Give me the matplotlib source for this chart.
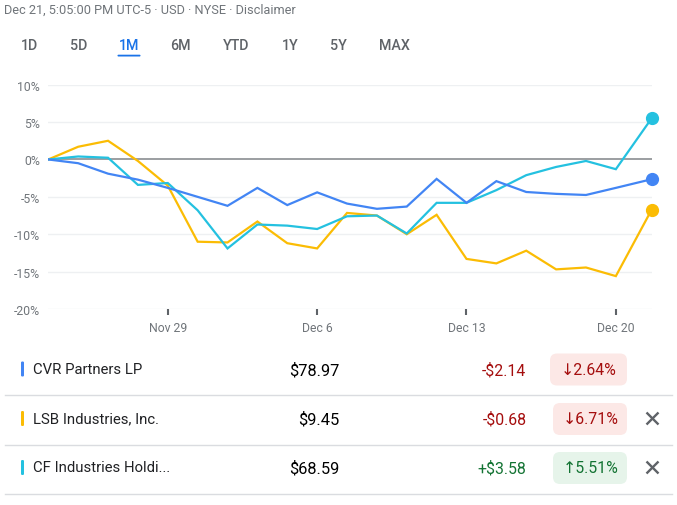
import matplotlib
matplotlib.use("Agg")
import matplotlib.pyplot as plt
from matplotlib.patches import FancyBboxPatch

plt.rcParams["font.family"] = ["Roboto", "DejaVu Sans"]

# ── data ───────────────────────────────────────────────────────────────────────
# trading sessions Nov 22 .. Dec 21 (last point is the live quote)
session_x = [0, 1, 2, 3, 4, 5, 6, 7, 8, 9, 10, 11, 12, 13, 14, 15, 16, 17, 18, 19, 20.2]

cvr_pct = [0, -0.5, -1.9, -2.7, -3.8, -5.0, -6.2, -3.8, -6.1, -4.4,
           -5.9, -6.6, -6.3, -2.6, -5.8, -2.9, -4.35, -4.6, -4.75, -3.8, -2.64]
lsb_pct = [0, 1.7, 2.5, -0.2, -3.5, -11.0, -11.1, -8.3, -11.2, -11.9,
           -7.15, -7.5, -10.0, -7.4, -13.3, -13.9, -12.2, -14.7, -14.45, -15.6, -6.71]
cf_pct = [0, 0.4, 0.23, -3.4, -3.15, -6.8, -11.9, -8.7, -8.85, -9.3,
          -7.6, -7.5, -9.9, -5.8, -5.8, -4.1, -2.1, -1.0, -0.2, -1.3, 5.51]

tick_pos = [4, 9, 14, 19]
tick_labels = ["Nov 29", "Dec 6", "Dec 13", "Dec 20"]
y_ticks = [10, 5, 0, -5, -10, -15, -20]

names = ["CVR Partners LP", "LSB Industries, Inc.", "CF Industries Holdi..."]
prices = ["$78.97", "$9.45", "$68.59"]
changes = ["-$2.14", "-$0.68", "+$3.58"]
pcts = ["2.64%", "6.71%", "5.51%"]
is_up = [False, False, True]
removable = [False, True, True]

tabs = ["1D", "5D", "1M", "6M", "YTD", "1Y", "5Y", "MAX"]
active_tab = "1M"
header = "Dec 21, 5:05:00 PM UTC-5 \u00b7 USD \u00b7 NYSE \u00b7 Disclaimer"

BLUE = "#4285f4"
YELLOW = "#fbbc04"
CYAN = "#24c1e0"
series = [(lsb_pct, YELLOW), (cf_pct, CYAN), (cvr_pct, BLUE)]
row_colors = [BLUE, YELLOW, CYAN]

W, H = 677, 506
fig = plt.figure(figsize=(W / 100, H / 100), dpi=100)


def fx(px):
    return px / W


def fy(py):
    return 1 - py / H


# ── chart ──────────────────────────────────────────────────────────────────────
ax = fig.add_axes([fx(48.3), fy(310), fx(651.7 - 48.3), (310 - 85.7) / H])
ax.set_xlim(0, 20.2)
ax.set_ylim(-20, 10)
for s in ax.spines.values():
    s.set_visible(False)
for yv in y_ticks:
    if yv == 0:
        continue
    ax.axhline(yv, color="#eef0f2", lw=1, zorder=1)
ax.axhline(0, color="#8a8d91", lw=1.2, zorder=2)

for vals, color in series:
    ax.plot(session_x, vals, color=color, lw=1.6, zorder=3,
            solid_joinstyle="miter")
    ax.plot(session_x[-1], vals[-1], "o", color=color, ms=8.5, zorder=4,
            clip_on=False)

ax.set_yticks(y_ticks)
ax.set_yticklabels([f"{v}%" for v in y_ticks])
ax.set_xticks(tick_pos)
ax.set_xticklabels(tick_labels)
ax.tick_params(axis="y", length=0, pad=6, labelsize=8.8, labelcolor="#70757a")
ax.tick_params(axis="x", length=4.5, width=1.5, color="#5f6368", pad=4,
               labelsize=8.8, labelcolor="#70757a")

# ── page chrome (pixel-space overlay) ──────────────────────────────────────────
ov = fig.add_axes([0, 0, 1, 1], zorder=-1)
ov.set_xlim(0, W)
ov.set_ylim(H, 0)
ov.axis("off")

ov.text(4.5, 10, header, fontsize=9.2, color="#70757a", va="center", ha="left")

tab_x = [29, 78.5, 129, 180, 236.5, 290, 338, 394]
for label, x in zip(tabs, tab_x):
    active = label == active_tab
    ov.text(x, 45.5, label, fontsize=10.3, ha="center", va="center",
            color="#1a73e8" if active else "#5f6368", fontweight="medium")
    if active:
        ov.add_patch(FancyBboxPatch((117.5, 55.7), 23, 1.8,
                                    boxstyle="round,pad=0,rounding_size=0.9",
                                    fc="#1a73e8", ec="none"))

# ── quote table ────────────────────────────────────────────────────────────────
row_y = [370, 419.5, 468.5]
for i, y in enumerate(row_y):
    ov.add_patch(FancyBboxPatch((21, y - 7.5), 3, 15,
                                boxstyle="round,pad=0,rounding_size=1.2",
                                fc=row_colors[i], ec="none"))
    ov.text(33, y, names[i], fontsize=10.7, color="#202124", va="center",
            ha="left")
    ov.text(339.5, y + 0.5, prices[i], fontsize=11.8, color="#000000",
            va="center", ha="right")
    up = is_up[i]
    fg = "#137333" if up else "#a50e0e"
    bg = "#e6f4ea" if up else "#fce8e6"
    ov.text(526.5, y + 0.5, changes[i], fontsize=11.4, color=fg,
            va="center", ha="right")
    left = 550 if i == 0 else 553
    ov.add_patch(FancyBboxPatch((left, y - 15.5), 627 - left, 32,
                                boxstyle="round,pad=0,rounding_size=7",
                                fc=bg, ec="none"))
    arrow = "\u2191" if up else "\u2193"
    ov.text((left + 627) / 2 + 0.5, y + 0.5, arrow + pcts[i], fontsize=11.4,
            color=fg, va="center", ha="center")
    if removable[i]:
        cx, h = 652.5, 6
        ov.plot([cx - h, cx + h], [y - h, y + h], color="#5f6368", lw=1.7,
                solid_capstyle="butt")
        ov.plot([cx - h, cx + h], [y + h, y - h], color="#5f6368", lw=1.7,
                solid_capstyle="butt")
    sep = y + 26
    ov.plot([5, 672], [sep, sep], color="#dadce0", lw=1)

fig.savefig("out.png", dpi=100)
